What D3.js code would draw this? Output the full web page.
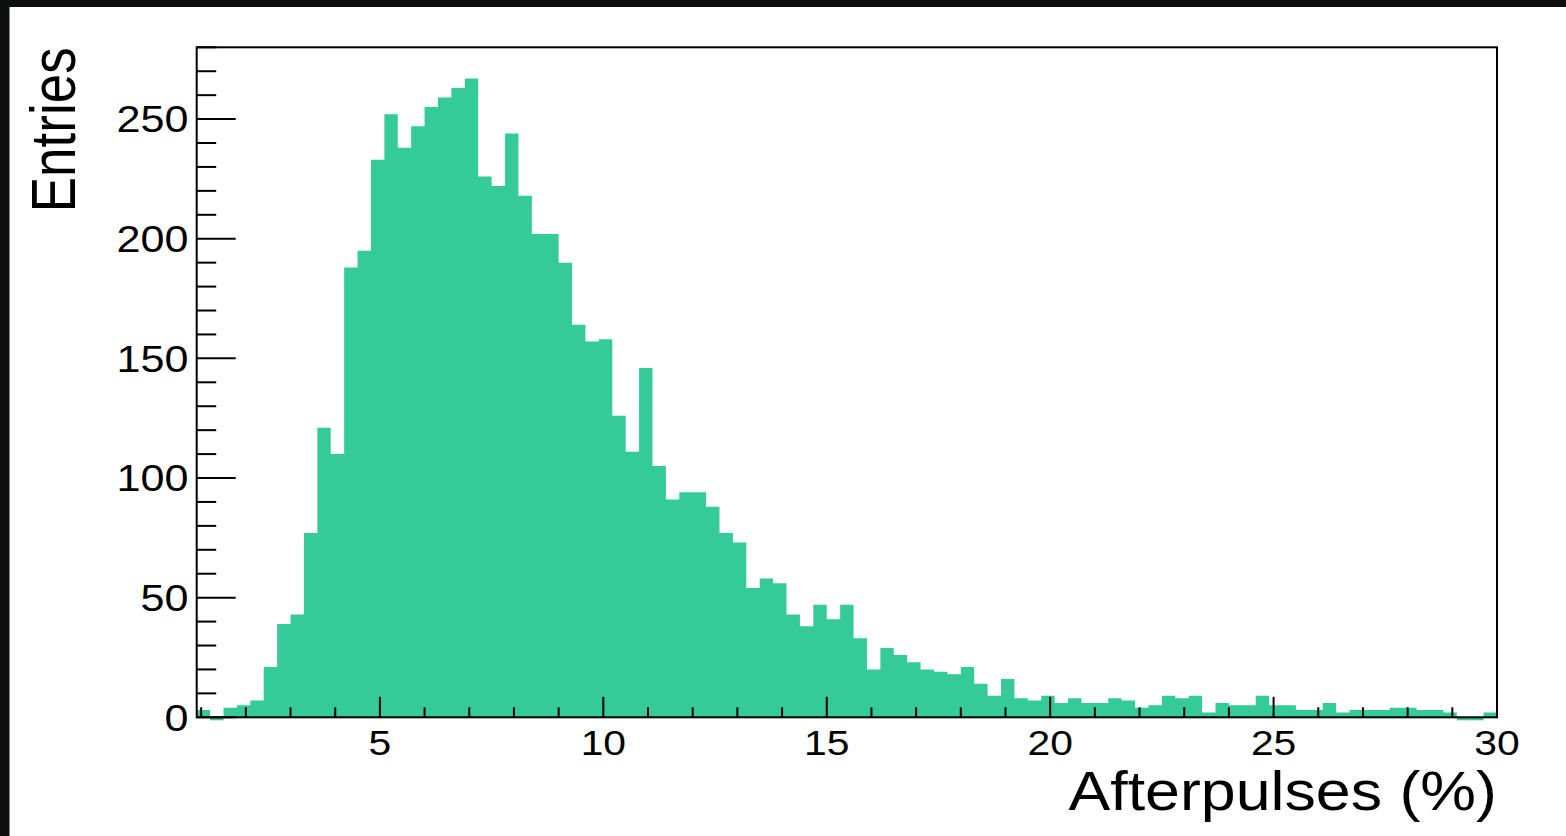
<!DOCTYPE html>
<html>
<head>
<meta charset="utf-8">
<script src="https://cdn.jsdelivr.net/npm/d3@7"></script>
<style>
  html, body { margin: 0; padding: 0; background: #0d0e0e; }
  svg { display: block; }
  text { font-family: "Liberation Sans", Arial, Helvetica, sans-serif; fill: #000; }
</style>
</head>
<body>
<svg id="chart" width="1566" height="836"></svg>
<script>
// ---- data ----
const binStart = 0.9;
const binWidth = 0.3;
const binCounts = [
  3, 0, 4, 5, 7, 21, 39, 43, 77, 121,
  110, 188, 195, 233, 252, 238, 247, 255, 259, 263,
  267, 226, 222, 244, 218, 202, 202, 190, 164, 157,
  158, 126, 111, 146, 105, 91, 94, 94, 88, 77,
  73, 54, 58, 56, 43, 38, 47, 41, 47, 33,
  20, 29, 26, 23, 20, 19, 18, 21, 14, 9,
  16, 8, 7, 9, 6, 8, 6, 6, 8, 7,
  4, 5, 9, 8, 9, 2, 6, 5, 5, 9,
  5, 5, 3, 3, 6, 2, 3, 3, 3, 4,
  4, 3, 3, 2, 0, 0, 2
];
const xDomain = [0.9, 30];
const yDomain = [0, 280];
const xMajorTicks = [5, 10, 15, 20, 25, 30];
const xMinorTicks = d3.range(1, 31, 1);
const yMajorTicks = [0, 50, 100, 150, 200, 250];
const yMinorTicks = d3.range(0, 281, 10);
const xTitle = "Afterpulses (%)";
const yTitle = "Entries";

// ---- layout ----
const W = 1566, H = 836;
const frame = { left: 196.7, right: 1497, top: 47.3, bottom: 717.3 };
const stretch = 1.15;
const fill = "#35cb98";

const svg = d3.select("#chart");
svg.append("rect").attr("x", 0).attr("y", 0).attr("width", W).attr("height", H).attr("fill", "#0d0e0e");
svg.append("rect").attr("x", 9.5).attr("y", 7).attr("width", W - 9.5).attr("height", H - 7).attr("fill", "#ffffff");

const x = d3.scaleLinear().domain(xDomain).range([frame.left, frame.right]);
const y = d3.scaleLinear().domain(yDomain).range([frame.bottom, frame.top]);

const bins = binCounts.map((c, i) => ({ x0: binStart + i * binWidth, x1: binStart + (i + 1) * binWidth, c }));

// empty bins: thin line at the baseline (peeks below the axis)
svg.append("g").selectAll("rect").data(bins.filter(d => d.c === 0)).join("rect")
  .attr("x", d => x(d.x0))
  .attr("width", d => x(d.x1) - x(d.x0))
  .attr("y", y(0) - 0.5)
  .attr("height", 3.5)
  .attr("fill", fill);

// histogram as one step area
const stepPts = bins.map(d => [d.x0, d.c]);
stepPts.push([bins[bins.length - 1].x1, bins[bins.length - 1].c]);
const area = d3.area()
  .curve(d3.curveStepAfter)
  .x(d => x(d[0]))
  .y0(y(0))
  .y1(d => y(d[1]));
svg.append("path").datum(stepPts).attr("d", area).attr("fill", fill);

// frame
svg.append("rect")
  .attr("x", frame.left).attr("y", frame.top)
  .attr("width", frame.right - frame.left).attr("height", frame.bottom - frame.top)
  .attr("fill", "none").attr("stroke", "#000").attr("stroke-width", 2);

// x ticks
const gx = svg.append("g").attr("stroke", "#000").attr("stroke-width", 2);
gx.selectAll("line").data(xMinorTicks).join("line")
  .attr("x1", d => x(d)).attr("x2", d => x(d))
  .attr("y1", y(0)).attr("y2", d => xMajorTicks.includes(d) ? y(0) - 20.5 : y(0) - 10);

// y ticks
const gy = svg.append("g").attr("stroke", "#000").attr("stroke-width", 2);
gy.selectAll("line").data(yMinorTicks).join("line")
  .attr("x1", frame.left).attr("x2", d => yMajorTicks.includes(d) ? frame.left + 39 : frame.left + 19.5)
  .attr("y1", d => y(d)).attr("y2", d => y(d));

// x tick labels
svg.append("g").selectAll("text").data(xMajorTicks).join("text")
  .attr("transform", d => `translate(${x(d)},755) scale(${stretch},1)`)
  .attr("text-anchor", "middle")
  .attr("font-size", 35.5)
  .text(d => d);

// y tick labels
svg.append("g").selectAll("text").data(yMajorTicks).join("text")
  .attr("transform", d => `translate(188.5,${y(d) + 13.4}) scale(${stretch},1)`)
  .attr("text-anchor", "end")
  .attr("font-size", 37.5)
  .text(d => d);

// axis titles
svg.append("text")
  .attr("transform", `translate(${frame.right},810) scale(1.13,1)`)
  .attr("text-anchor", "end")
  .attr("font-size", 55.5)
  .text(xTitle);

svg.append("text")
  .attr("transform", `translate(75,${frame.top}) scale(1.18,1) rotate(-90)`)
  .attr("text-anchor", "end")
  .attr("font-size", 53)
  .text(yTitle);
</script>
</body>
</html>
